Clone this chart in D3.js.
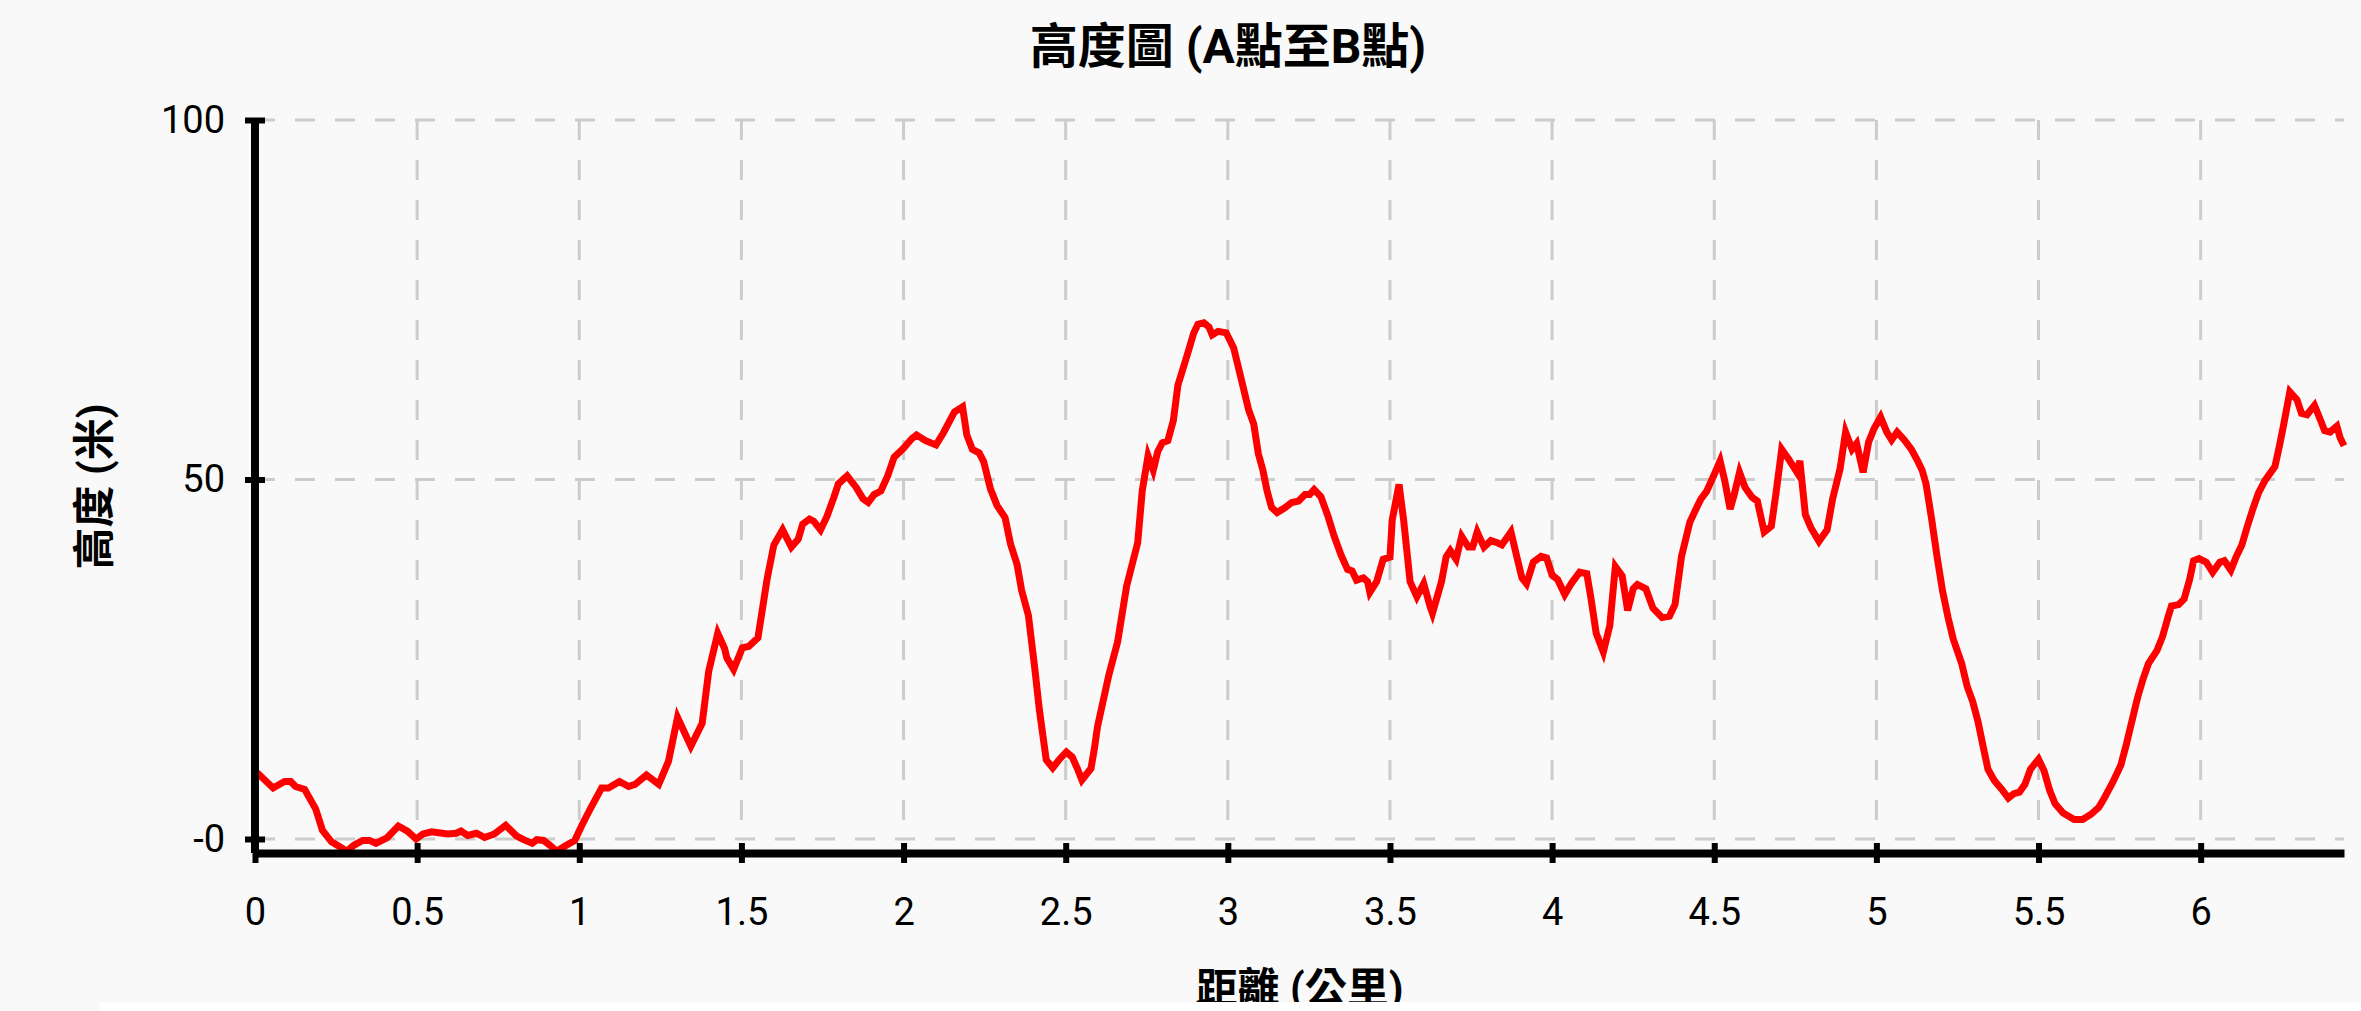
<!DOCTYPE html>
<html>
<head>
<meta charset="utf-8">
<script src="https://cdn.jsdelivr.net/npm/d3@7"></script>
<style>
  body { margin: 0; background: #f9f9f9; overflow: hidden; }
  .chart-title { font-family: Roboto, "Noto Sans CJK TC", sans-serif; font-size: 48px; font-weight: bold; fill: #000; }
  .axis-title { font-family: Roboto, "Noto Sans CJK TC", sans-serif; font-size: 42px; font-weight: bold; fill: #000; }
  .axis text { font-family: Roboto, "Noto Sans CJK TC", sans-serif; font-size: 38px; fill: #000; }
  .axis .domain { stroke: #000; stroke-width: 8; }
  .axis .tick line { stroke: #000; stroke-width: 6; }
  .grid line { stroke: #cccccc; stroke-width: 3; stroke-dasharray: 20,20; }
</style>
</head>
<body>
<div id="wrapper"></div>
<script>
const chartTitle = "高度圖 (A點至B點)" ;
const xLabel = "距離 (公里)" ;
const yLabel = "高度 (米)" ;

// distance along the route (km)
const distanceKm = [
  0.000, 0.056, 0.091, 0.110, 0.125, 0.153, 0.187, 0.208, 0.236, 0.284,
  0.304, 0.332, 0.353, 0.373, 0.408, 0.442, 0.470, 0.497, 0.518, 0.545,
  0.594, 0.621, 0.635, 0.656, 0.683, 0.708, 0.738, 0.773, 0.807, 0.828,
  0.855, 0.869, 0.890, 0.910, 0.930, 0.959, 0.986, 1.007, 1.034, 1.069,
  1.090, 1.124, 1.152, 1.172, 1.207, 1.245, 1.275, 1.303, 1.344, 1.379,
  1.399, 1.427, 1.448, 1.455, 1.476, 1.503, 1.523, 1.551, 1.579, 1.600,
  1.627, 1.654, 1.675, 1.689, 1.710, 1.723, 1.744, 1.764, 1.785, 1.799,
  1.826, 1.854, 1.875, 1.891, 1.909, 1.930, 1.951, 1.971, 1.999, 2.026,
  2.040, 2.068, 2.100, 2.123, 2.157, 2.182, 2.195, 2.212, 2.233, 2.247,
  2.268, 2.288, 2.313, 2.330, 2.350, 2.364, 2.385, 2.405, 2.419, 2.440,
  2.460, 2.481, 2.502, 2.520, 2.536, 2.550, 2.578, 2.589, 2.598, 2.633,
  2.660, 2.688, 2.722, 2.736, 2.754, 2.770, 2.784, 2.798, 2.815, 2.832,
  2.846, 2.874, 2.895, 2.908, 2.926, 2.942, 2.952, 2.970, 2.995, 3.018,
  3.046, 3.064, 3.080, 3.094, 3.108, 3.121, 3.135, 3.152, 3.177, 3.197,
  3.218, 3.238, 3.252, 3.266, 3.287, 3.308, 3.328, 3.349, 3.369, 3.383,
  3.397, 3.418, 3.431, 3.438, 3.459, 3.479, 3.500, 3.507, 3.528, 3.542,
  3.562, 3.583, 3.604, 3.624, 3.631, 3.659, 3.673, 3.686, 3.704, 3.721,
  3.742, 3.755, 3.769, 3.790, 3.811, 3.831, 3.845, 3.873, 3.893, 3.907,
  3.921, 3.942, 3.966, 3.983, 4.000, 4.017, 4.039, 4.060, 4.085, 4.107,
  4.119, 4.136, 4.158, 4.178, 4.195, 4.216, 4.233, 4.250, 4.263, 4.289,
  4.311, 4.339, 4.362, 4.379, 4.399, 4.425, 4.447, 4.459, 4.476, 4.498,
  4.518, 4.532, 4.549, 4.561, 4.578, 4.595, 4.617, 4.633, 4.654, 4.676,
  4.691, 4.708, 4.730, 4.755, 4.764, 4.781, 4.798, 4.823, 4.848, 4.865,
  4.888, 4.905, 4.925, 4.939, 4.959, 4.976, 4.993, 5.013, 5.032, 5.047,
  5.064, 5.086, 5.108, 5.127, 5.141, 5.153, 5.170, 5.187, 5.204, 5.221,
  5.237, 5.263, 5.280, 5.297, 5.313, 5.330, 5.344, 5.364, 5.387, 5.407,
  5.424, 5.441, 5.458, 5.475, 5.500, 5.517, 5.534, 5.551, 5.576, 5.610,
  5.636, 5.661, 5.686, 5.703, 5.729, 5.754, 5.771, 5.788, 5.805, 5.822,
  5.839, 5.865, 5.882, 5.899, 5.910, 5.932, 5.949, 5.966, 5.978, 5.995,
  6.017, 6.037, 6.059, 6.073, 6.093, 6.110, 6.127, 6.144, 6.161, 6.178,
  6.199, 6.229, 6.243, 6.255, 6.275, 6.297, 6.311, 6.328, 6.351, 6.370,
  6.382, 6.399, 6.420, 6.430, 6.442
] ;

// elevation (m), one per distance
const elevationM = [
  9.5, 7.1, 8.0, 8.0, 7.3, 6.9, 4.2, 1.2, -0.4, -1.7,
  -0.9, -0.2, -0.2, -0.6, 0.2, 1.8, 1.1, 0.0, 0.7, 1.0,
  0.7, 0.8, 1.1, 0.5, 0.8, 0.2, 0.7, 1.9, 0.4, -0.1,
  -0.6, -0.1, -0.2, -0.9, -1.7, -0.9, -0.2, 1.8, 4.2, 7.1,
  7.1, 8.0, 7.3, 7.6, 8.9, 7.6, 10.8, 16.9, 12.9, 16.1,
  23.3, 28.6, 26.5, 25.2, 23.6, 26.6, 26.8, 28.0, 36.1, 40.9,
  43.0, 40.6, 41.7, 43.8, 44.5, 44.2, 43.0, 44.9, 47.5, 49.4,
  50.5, 48.9, 47.3, 46.8, 47.9, 48.4, 50.5, 53.1, 54.3, 55.7,
  56.2, 55.4, 54.8, 56.5, 59.4, 60.1, 56.2, 54.2, 53.7, 52.5,
  48.7, 46.4, 44.7, 41.0, 38.2, 34.6, 31.1, 23.6, 17.9, 11.0,
  9.9, 11.1, 12.1, 11.4, 9.8, 8.2, 9.8, 12.7, 15.6, 22.8,
  27.4, 35.2, 41.2, 48.4, 53.3, 51.3, 53.9, 55.1, 55.4, 58.2,
  63.1, 67.2, 70.4, 71.6, 71.8, 71.2, 70.1, 70.6, 70.4, 68.3,
  63.1, 59.7, 57.7, 53.6, 51.3, 48.4, 46.1, 45.4, 46.1, 46.8,
  47.0, 47.9, 47.9, 48.6, 47.6, 45.0, 42.1, 39.5, 37.5, 37.3,
  36.0, 36.3, 35.8, 34.3, 35.8, 38.9, 39.2, 44.4, 49.3, 44.4,
  35.8, 33.7, 35.5, 32.3, 31.4, 35.8, 39.2, 40.1, 38.9, 42.1,
  40.6, 40.6, 42.7, 40.6, 41.5, 41.2, 40.9, 42.7, 38.9, 36.3,
  35.5, 38.5, 39.3, 39.1, 36.7, 36.1, 34.0, 35.6, 37.1, 36.9,
  33.7, 28.6, 26.0, 29.7, 37.9, 36.6, 31.8, 34.8, 35.4, 34.8,
  32.1, 30.8, 31.0, 32.6, 39.3, 44.1, 46.2, 47.3, 48.3, 50.5,
  52.6, 49.9, 45.9, 47.8, 51.0, 48.9, 47.5, 47.0, 42.7, 43.5,
  48.3, 54.2, 52.8, 51.0, 52.6, 45.1, 43.3, 41.4, 43.0, 47.3,
  51.5, 56.6, 54.2, 55.0, 51.0, 55.2, 57.1, 58.7, 56.6, 55.5,
  56.6, 55.5, 54.2, 52.6, 51.3, 49.4, 44.6, 39.3, 34.5, 30.8,
  27.8, 24.4, 21.2, 19.1, 16.4, 12.7, 9.7, 8.1, 6.9, 5.7,
  6.3, 6.5, 7.6, 9.7, 11.1, 9.5, 6.8, 4.9, 3.6, 2.7,
  2.7, 3.4, 4.4, 5.7, 7.9, 10.3, 13.2, 16.4, 19.6, 22.2,
  24.4, 26.2, 28.1, 30.8, 32.4, 32.6, 33.4, 36.1, 38.7, 39.0,
  38.5, 37.1, 38.5, 38.7, 37.4, 39.3, 40.9, 43.5, 45.9, 48.1,
  49.9, 51.8, 54.7, 57.4, 62.2, 61.1, 59.2, 59.0, 60.3, 58.2,
  56.8, 56.6, 57.4, 55.8, 54.7
] ;

const xTicks = [0, 0.5, 1, 1.5, 2, 2.5, 3, 3.5, 4, 4.5, 5, 5.5, 6] ;
const xTickLabels = ["0", "0.5", "1", "1.5", "2", "2.5", "3", "3.5", "4", "4.5", "5", "5.5", "6"] ;
const yTicks = [0, 50, 100] ;
const yTickLabels = ["-0", "50", "100"] ;
const yDomain = [-1.95, 100] ;

function drawChart() {
  const points = distanceKm.map((d, i) => ({dist: d, elev: elevationM[i]})) ;

  let dimensions = {
    width: 2361,
    height: 1011,
    margin: {
      top: 120,
      right: 17,
      bottom: 158,
      left: 255,
    },
  }
  dimensions.boundedWidth = dimensions.width
    - dimensions.margin.left
    - dimensions.margin.right
  dimensions.boundedHeight = dimensions.height
    - dimensions.margin.top
    - dimensions.margin.bottom

  const svg = d3.select("#wrapper").append("svg")
      .attr("width", dimensions.width)
      .attr("height", dimensions.height)
      .style("display", "block")
  ;

  const bounds = svg.append("g")
      .attr("transform", `translate(${dimensions.margin.left}, ${dimensions.margin.top})`)
  ;

  const xAccessor = (d) => d.dist ;
  const yAccessor = (d) => d.elev ;

  const xScale = d3.scaleLinear()
    .domain(d3.extent(points, xAccessor))
    .range([0, dimensions.boundedWidth])
  ;
  const yScale = d3.scaleLinear()
    .domain(yDomain)
    .range([dimensions.boundedHeight, 0])
  ;

  // dashed grid
  const grid = bounds.append("g").attr("class", "grid") ;
  grid.selectAll(".hgrid")
    .data(yTicks)
    .enter().append("line")
      .attr("class", "hgrid")
      .attr("x1", 0)
      .attr("x2", dimensions.boundedWidth)
      .attr("y1", (d) => yScale(d))
      .attr("y2", (d) => yScale(d))
  ;
  grid.selectAll(".vgrid")
    .data(xTicks.slice(1))
    .enter().append("line")
      .attr("class", "vgrid")
      .attr("x1", (d) => xScale(d))
      .attr("x2", (d) => xScale(d))
      .attr("y1", yScale(100))
      .attr("y2", yScale(0))
  ;

  // elevation line
  const lineGenerator = d3.line()
    .x((d) => xScale(xAccessor(d)))
    .y((d) => yScale(yAccessor(d)))
  ;
  bounds.append("path")
    .attr("d", lineGenerator(points))
    .attr("fill", "none")
    .attr("stroke", "#ff0000")
    .attr("stroke-width", 7)
  ;

  // axes
  const xAxisGenerator = d3.axisBottom()
    .scale(xScale)
    .tickValues(xTicks)
    .tickFormat((d, i) => xTickLabels[i])
    .tickSizeInner(10)
    .tickSizeOuter(0)
    .tickPadding(35)
  ;
  const xAxis = bounds.append("g")
    .attr("class", "axis")
    .attr("transform", `translate(0, ${dimensions.boundedHeight})`)
    .call(xAxisGenerator)
    .attr("font-size", null)
    .attr("font-family", null)
  ;
  xAxis.selectAll(".tick line").attr("y1", -10) ;

  const yAxisGenerator = d3.axisLeft()
    .scale(yScale)
    .tickValues(yTicks)
    .tickFormat((d, i) => yTickLabels[i])
    .tickSizeInner(10)
    .tickSizeOuter(0)
    .tickPadding(20)
  ;
  const yAxis = bounds.append("g")
    .attr("class", "axis")
    .call(yAxisGenerator)
    .attr("font-size", null)
    .attr("font-family", null)
  ;
  yAxis.select(".domain").attr("d", `M0,${dimensions.boundedHeight}V${yScale(100)}`) ;
  yAxis.selectAll(".tick line").attr("x1", 10) ;

  // titles
  svg.append("text")
    .attr("class", "chart-title")
    .attr("x", 1228)
    .attr("y", 63)
    .attr("text-anchor", "middle")
    .text(chartTitle)
  ;
  svg.append("text")
    .attr("class", "axis-title")
    .attr("x", dimensions.margin.left + dimensions.boundedWidth / 2)
    .attr("y", 1003)
    .attr("text-anchor", "middle")
    .text(xLabel)
  ;
  svg.append("text")
    .attr("class", "axis-title")
    .attr("transform", `translate(109, ${dimensions.margin.top + dimensions.boundedHeight / 2}) rotate(-90)`)
    .attr("text-anchor", "middle")
    .text(yLabel)
  ;

  // white strip along the bottom edge of the page
  svg.append("rect")
    .attr("x", 100)
    .attr("y", 1002)
    .attr("width", dimensions.width - 100)
    .attr("height", dimensions.height - 1002)
    .attr("fill", "#ffffff")
  ;
}

drawChart() ;
</script>
</body>
</html>
